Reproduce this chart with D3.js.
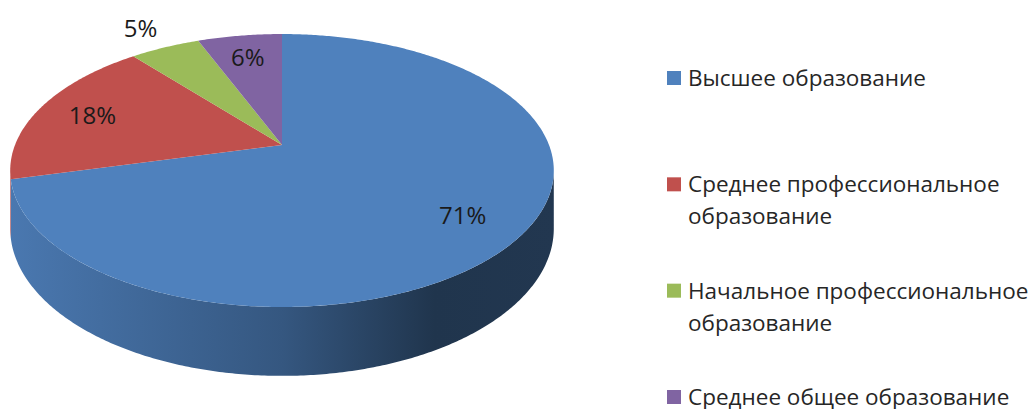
<!DOCTYPE html>
<html>
<head>
<meta charset="utf-8">
<script src="https://cdn.jsdelivr.net/npm/d3@7"></script>
<style>
  body { margin: 0; background: #fff; }
  text { font-family: "Open Sans", "Noto Sans", sans-serif; }
</style>
</head>
<body>
<svg id="pie-svg"></svg>
<script>
var categories = ["Высшее образование", "Среднее профессиональное образование",
                  "Начальное профессиональное образование", "Среднее общее образование"];
var values = [71, 18, 5, 6];
var colors = ["#4f81bd", "#c0504d", "#9bbb59", "#8064a2"];

var w = 1036, h = 409;
var cx = 282, cy = 145;      // apex of the pie on screen
var rx = 267, ry = 131.7;    // horizontal / vertical radius before perspective
var persp = 0.187;           // far side shrinks, near side grows
var depth = 56;              // thickness of the pie

var svg = d3.select("#pie-svg")
            .attr("width", w)
            .attr("height", h);

// theta clockwise from 12 o'clock, same as d3.pie
function project(theta, r, drop){
  var x = r * Math.sin(theta), z = r * Math.cos(theta);
  var s = 1 / (1 + persp * z);
  return [cx + rx * x * s, cy - ry * z * s + drop * s];
}

function arcPoints(a0, a1, drop){
  var n = Math.max(2, Math.ceil((a1 - a0) / 0.01));
  return d3.range(n + 1).map(function(i){
    return project(a0 + (a1 - a0) * i / n, 1, drop);
  });
}

var pie = d3.pie().sort(null).value(function(d){ return d; });
var arcs = pie(values);
var line = d3.line();

// side shading
var defs = svg.append("defs");
arcs.forEach(function(d, i){
  var base = d3.color(colors[i]);
  var g = defs.append("linearGradient")
      .attr("id", "side" + i)
      .attr("gradientUnits", "userSpaceOnUse")
      .attr("x1", cx - rx * 1.02).attr("x2", cx + rx * 1.02)
      .attr("y1", 0).attr("y2", 0);
  [[0, 0.2], [0.5, 1.1], [0.78, 2.5], [1, 2.4]].forEach(function(st){
    g.append("stop")
      .attr("offset", st[0])
      .attr("stop-color", base.darker(st[1]).formatHex());
  });
});

// visible part of the outer wall
var lo = Math.acos(-persp), hi = 2 * Math.PI - Math.acos(-persp);

svg.append("g").attr("class", "sides")
  .selectAll("path")
  .data(arcs)
  .enter()
  .append("path")
  .attr("d", function(d){
    var a0 = Math.max(d.startAngle, lo), a1 = Math.min(d.endAngle, hi);
    if (a0 >= a1) return null;
    var pts = arcPoints(a0, a1, 0).concat(arcPoints(a0, a1, depth).reverse());
    return line(pts) + "Z";
  })
  .attr("fill", function(d, i){ return "url(#side" + i + ")"; });

svg.append("g").attr("class", "tops")
  .selectAll("path")
  .data(arcs)
  .enter()
  .append("path")
  .attr("d", function(d){
    var pts = [project(0, 0, 0)].concat(arcPoints(d.startAngle, d.endAngle, 0));
    return line(pts) + "Z";
  })
  .attr("fill", function(d, i){ return colors[i]; });

// percentage labels
function labelPos(d){
  var r = d.value <= 5 ? 1.25 : 0.78;
  return project((d.startAngle + d.endAngle) / 2, r, 0);
}

svg.append("g").attr("class", "labels")
  .selectAll("text")
  .data(arcs)
  .enter()
  .append("text")
  .attr("x", function(d){ return labelPos(d)[0]; })
  .attr("y", function(d){ return labelPos(d)[1]; })
  .attr("text-anchor", "middle")
  .attr("dominant-baseline", "central")
  .attr("font-size", "24px")
  .attr("fill", "#1a1a1a")
  .text(function(d){ return d.value + "%"; });

// legend
var legendY = d3.scalePoint().domain(categories).range([78, 397]);
var legendX = 667, textX = 688, maxW = w - textX, lineH = 32;

var items = svg.append("g").attr("class", "legend")
  .selectAll("g")
  .data(categories)
  .enter()
  .append("g");

items.append("rect")
  .attr("x", legendX)
  .attr("y", function(d){ return legendY(d) - 7; })
  .attr("width", 14)
  .attr("height", 14)
  .attr("fill", function(d, i){ return colors[i]; });

items.each(function(d){
  var t = d3.select(this).append("text")
      .attr("x", textX)
      .attr("y", legendY(d) + 8)
      .attr("font-size", "22.5px")
      .attr("fill", "#262626");
  var words = d.split(" "), cur = [];
  var ts = t.append("tspan").attr("x", textX).attr("dy", 0);
  words.forEach(function(wd){
    cur.push(wd);
    ts.text(cur.join(" "));
    if (ts.node().getComputedTextLength() > maxW && cur.length > 1){
      cur.pop();
      ts.text(cur.join(" "));
      cur = [wd];
      ts = t.append("tspan").attr("x", textX).attr("dy", lineH).text(wd);
    }
  });
});
</script>
</body>
</html>
